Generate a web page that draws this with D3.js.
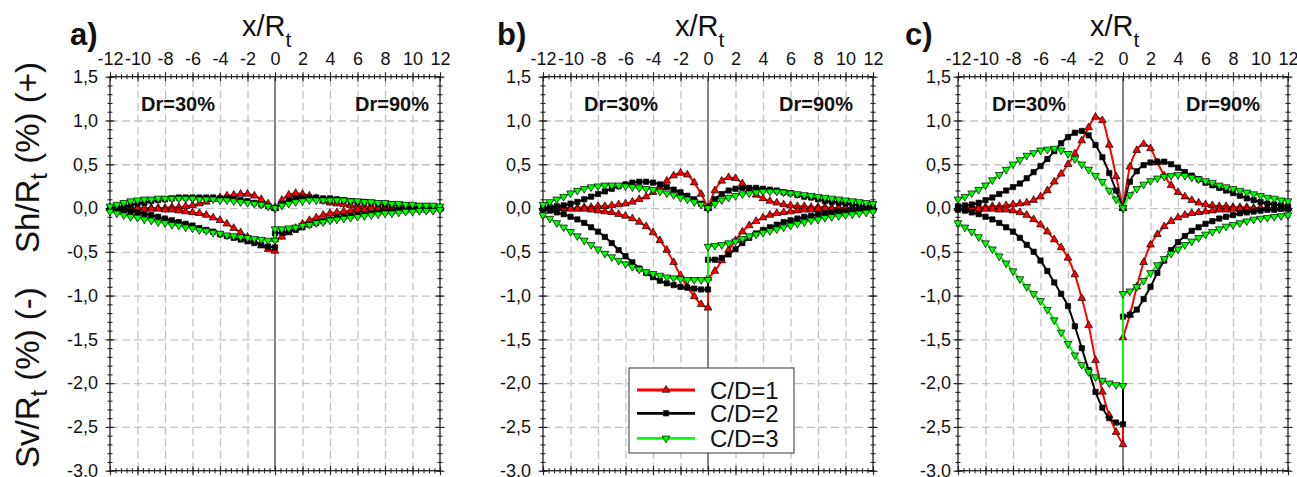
<!DOCTYPE html>
<html><head><meta charset="utf-8">
<script src="https://cdn.jsdelivr.net/npm/d3@7"></script>
<style>body{margin:0;background:#fff} svg{display:block} text{font-family:"Liberation Sans",Arial,sans-serif;fill:#111}</style>
</head><body><svg id="c" width="1297" height="477"></svg>
<script>
// ---------- categories / ticks ----------
const xLeft  = [-12,-11.5,-11,-10.5,-10,-9.5,-9,-8.5,-8,-7.5,-7,-6.5,-6,-5.5,-5,-4.5,-4,-3.5,-3,-2.5,-2,-1.5,-1,-0.5,0];
const xRight = [0,0.5,1,1.5,2,2.5,3,3.5,4,4.5,5,5.5,6,6.5,7,7.5,8,8.5,9,9.5,10,10.5,11,11.5,12];
const xTicks = [-12,-10,-8,-6,-4,-2,0,2,4,6,8,10,12];
const yTicks = [1.5,1.0,0.5,0.0,-0.5,-1.0,-1.5,-2.0,-2.5,-3.0];
const seriesNames = ["C/D=1","C/D=2","C/D=3"];
const panelLabels = ["a)","b)","c)"];

// ---------- panel a ----------
const aShL1 = [0,0,0,0,0,0,0,0,0,0.01,0.01,0.02,0.03,0.05,0.07,0.1,0.12,0.14,0.15,0.16,0.16,0.14,0.1,0.05,0];
const aShL2 = [0,0.01,0.02,0.03,0.05,0.06,0.08,0.09,0.1,0.11,0.12,0.12,0.12,0.12,0.12,0.12,0.11,0.11,0.1,0.09,0.08,0.06,0.04,0.02,0];
const aShL3 = [0.02,0.04,0.06,0.08,0.09,0.1,0.1,0.11,0.11,0.11,0.11,0.11,0.11,0.1,0.1,0.1,0.09,0.09,0.08,0.07,0.06,0.05,0.04,0.02,0];
const aSvL1 = [0,0,0,0,0,-0.01,-0.01,-0.01,-0.02,-0.02,-0.03,-0.04,-0.05,-0.06,-0.08,-0.11,-0.14,-0.18,-0.23,-0.28,-0.33,-0.38,-0.43,-0.47,-0.49];
const aSvL2 = [-0.01,-0.02,-0.03,-0.04,-0.05,-0.07,-0.08,-0.1,-0.12,-0.14,-0.16,-0.18,-0.2,-0.23,-0.25,-0.27,-0.3,-0.32,-0.34,-0.36,-0.38,-0.4,-0.42,-0.44,-0.45];
const aSvL3 = [-0.04,-0.06,-0.08,-0.1,-0.11,-0.13,-0.14,-0.16,-0.17,-0.19,-0.2,-0.22,-0.23,-0.25,-0.26,-0.28,-0.29,-0.31,-0.32,-0.33,-0.34,-0.35,-0.36,-0.37,-0.37];
const aShR1 = [0,0.09,0.15,0.17,0.16,0.14,0.11,0.08,0.06,0.05,0.04,0.03,0.02,0.02,0.01,0.01,0.01,0,0,0,0,0,0,0,0];
const aShR2 = [0,0.05,0.09,0.11,0.12,0.12,0.12,0.11,0.11,0.1,0.09,0.08,0.07,0.07,0.06,0.05,0.04,0.04,0.03,0.03,0.02,0.02,0.02,0.01,0.01];
const aShR3 = [0,0.03,0.05,0.07,0.08,0.09,0.09,0.09,0.09,0.09,0.09,0.08,0.08,0.07,0.07,0.06,0.06,0.05,0.05,0.04,0.04,0.03,0.03,0.03,0.02];
const aSvR1 = [-0.36,-0.33,-0.28,-0.23,-0.18,-0.14,-0.11,-0.08,-0.06,-0.05,-0.04,-0.03,-0.02,-0.02,-0.01,-0.01,-0.01,0,0,0,0,0,0,0,0];
const aSvR2 = [-0.29,-0.28,-0.27,-0.25,-0.22,-0.19,-0.17,-0.15,-0.13,-0.11,-0.1,-0.09,-0.08,-0.07,-0.06,-0.05,-0.04,-0.04,-0.03,-0.03,-0.02,-0.02,-0.02,-0.01,-0.01];
const aSvR3 = [-0.24,-0.24,-0.23,-0.22,-0.2,-0.19,-0.17,-0.16,-0.14,-0.13,-0.12,-0.11,-0.1,-0.09,-0.08,-0.07,-0.06,-0.06,-0.05,-0.04,-0.04,-0.03,-0.03,-0.03,-0.02];

// ---------- panel b ----------
const bShL1 = [0,0,0,0,0,0,0.01,0.01,0.02,0.02,0.03,0.04,0.05,0.07,0.1,0.13,0.18,0.24,0.31,0.37,0.4,0.38,0.29,0.16,0];
const bShL2 = [0,0.01,0.02,0.03,0.05,0.07,0.1,0.13,0.16,0.19,0.22,0.25,0.27,0.29,0.3,0.3,0.29,0.27,0.24,0.21,0.18,0.14,0.1,0.05,0];
const bShL3 = [0.04,0.07,0.1,0.13,0.17,0.2,0.22,0.24,0.25,0.26,0.26,0.26,0.25,0.24,0.23,0.22,0.21,0.19,0.17,0.15,0.12,0.1,0.07,0.04,0];
const bSvL1 = [0,0,0,0,-0.01,-0.01,-0.01,-0.02,-0.03,-0.04,-0.05,-0.07,-0.09,-0.12,-0.16,-0.21,-0.28,-0.37,-0.48,-0.62,-0.77,-0.9,-1.01,-1.1,-1.14];
const bSvL2 = [-0.02,-0.03,-0.05,-0.07,-0.1,-0.13,-0.17,-0.22,-0.27,-0.33,-0.4,-0.48,-0.55,-0.62,-0.69,-0.74,-0.79,-0.83,-0.86,-0.88,-0.9,-0.91,-0.92,-0.93,-0.93];
const bSvL3 = [-0.08,-0.12,-0.17,-0.22,-0.27,-0.32,-0.37,-0.42,-0.47,-0.52,-0.56,-0.6,-0.64,-0.67,-0.7,-0.73,-0.75,-0.77,-0.79,-0.8,-0.81,-0.82,-0.82,-0.82,-0.82];
const bShR1 = [0,0.2,0.31,0.35,0.34,0.28,0.21,0.15,0.11,0.08,0.06,0.04,0.03,0.02,0.02,0.01,0.01,0.01,0,0,0,0,0,0,0];
const bShR2 = [0,0.1,0.16,0.2,0.22,0.23,0.23,0.23,0.22,0.21,0.2,0.18,0.17,0.15,0.13,0.12,0.1,0.08,0.07,0.06,0.05,0.04,0.03,0.02,0.02];
const bShR3 = [0,0.05,0.09,0.12,0.14,0.16,0.17,0.18,0.19,0.19,0.19,0.18,0.17,0.16,0.15,0.14,0.13,0.12,0.11,0.1,0.09,0.08,0.07,0.06,0.05];
const bSvR1 = [-0.8,-0.72,-0.6,-0.48,-0.37,-0.27,-0.2,-0.15,-0.11,-0.08,-0.06,-0.05,-0.04,-0.03,-0.02,-0.02,-0.01,-0.01,-0.01,0,0,0,0,0,0];
const bSvR2 = [-0.59,-0.59,-0.57,-0.53,-0.47,-0.4,-0.34,-0.29,-0.25,-0.22,-0.19,-0.16,-0.14,-0.12,-0.1,-0.09,-0.07,-0.06,-0.05,-0.04,-0.04,-0.03,-0.02,-0.02,-0.02];
const bSvR3 = [-0.44,-0.43,-0.42,-0.4,-0.38,-0.35,-0.32,-0.3,-0.28,-0.26,-0.24,-0.22,-0.2,-0.18,-0.16,-0.14,-0.13,-0.11,-0.1,-0.09,-0.08,-0.07,-0.06,-0.05,-0.04];

// ---------- panel c ----------
const cShL1 = [0,0,0.01,0.01,0.01,0.02,0.02,0.03,0.04,0.05,0.06,0.09,0.13,0.2,0.3,0.39,0.5,0.62,0.77,0.92,1.04,1.0,0.72,0.36,0];
const cShL2 = [0.02,0.03,0.04,0.06,0.09,0.12,0.16,0.2,0.24,0.28,0.34,0.41,0.48,0.56,0.65,0.74,0.81,0.86,0.88,0.83,0.72,0.58,0.4,0.2,0];
const cShL3 = [0.1,0.13,0.17,0.21,0.26,0.32,0.38,0.44,0.5,0.55,0.6,0.63,0.66,0.67,0.68,0.66,0.62,0.56,0.5,0.44,0.37,0.3,0.2,0.1,0];
const cSvL1 = [0,0,0,-0.01,-0.01,-0.01,-0.02,-0.02,-0.03,-0.05,-0.08,-0.13,-0.19,-0.27,-0.36,-0.45,-0.57,-0.76,-1.03,-1.34,-1.74,-2.1,-2.37,-2.56,-2.7];
const cSvL2 = [-0.02,-0.03,-0.05,-0.07,-0.1,-0.13,-0.17,-0.22,-0.27,-0.34,-0.42,-0.5,-0.6,-0.72,-0.85,-0.98,-1.12,-1.35,-1.6,-1.85,-2.1,-2.28,-2.4,-2.45,-2.47];
const cSvL3 = [-0.17,-0.22,-0.27,-0.33,-0.4,-0.47,-0.55,-0.63,-0.72,-0.81,-0.9,-0.98,-1.06,-1.16,-1.28,-1.42,-1.55,-1.68,-1.79,-1.87,-1.93,-1.97,-2.0,-2.02,-2.03];
const cShR1 = [0,0.47,0.66,0.73,0.68,0.52,0.37,0.26,0.18,0.13,0.09,0.06,0.04,0.03,0.02,0.02,0.01,0.01,0.01,0,0,0,0,0,0];
const cShR2 = [0,0.3,0.42,0.49,0.52,0.53,0.53,0.5,0.46,0.41,0.37,0.33,0.29,0.26,0.23,0.2,0.17,0.14,0.11,0.09,0.07,0.05,0.04,0.03,0.02];
const cShR3 = [0,0.15,0.22,0.27,0.31,0.34,0.36,0.37,0.38,0.37,0.35,0.33,0.31,0.29,0.26,0.24,0.22,0.2,0.18,0.16,0.14,0.12,0.11,0.09,0.08];
const cSvR1 = [-1.48,-1.22,-0.9,-0.62,-0.42,-0.3,-0.21,-0.15,-0.11,-0.08,-0.06,-0.05,-0.04,-0.03,-0.02,-0.02,-0.01,-0.01,-0.01,-0.01,0,0,0,0,0];
const cSvR2 = [-1.24,-1.22,-1.16,-1.04,-0.9,-0.74,-0.6,-0.48,-0.39,-0.32,-0.26,-0.22,-0.18,-0.15,-0.12,-0.1,-0.08,-0.06,-0.05,-0.04,-0.03,-0.02,-0.02,-0.01,-0.01];
const cSvR3 = [-0.98,-0.95,-0.9,-0.83,-0.74,-0.65,-0.58,-0.52,-0.47,-0.42,-0.38,-0.34,-0.3,-0.27,-0.24,-0.21,-0.19,-0.17,-0.15,-0.13,-0.12,-0.11,-0.1,-0.09,-0.08];

// ---------- build tables ----------
const panelData = [
  [[aShL1,aShR1,aSvL1,aSvR1],[aShL2,aShR2,aSvL2,aSvR2],[aShL3,aShR3,aSvL3,aSvR3]],
  [[bShL1,bShR1,bSvL1,bSvR1],[bShL2,bShR2,bSvL2,bSvR2],[bShL3,bShR3,bSvL3,bSvR3]],
  [[cShL1,cShR1,cSvL1,cSvR1],[cShL2,cShR2,cSvL2,cSvR2],[cShL3,cShR3,cSvL3,cSvR3]]
];
const layout = [
  {left:110, labX:70,  dr30:141, dr90:355, ypad:12},
  {left:543, labX:497, dr30:584, dr90:779, ypad:12},
  {left:958, labX:905, dr30:992, dr90:1186, ypad:7}
];
const styles = [
  {line:"#ff0000", fill:"#ff0000", stroke:"#000", type:d3.symbolTriangle, rot:0,   size:26},
  {line:"#000000", fill:"#000000", stroke:"#000", type:d3.symbolSquare,   rot:0,   size:28},
  {line:"#00ff00", fill:"#00ff00", stroke:"#000", type:d3.symbolTriangle, rot:180, size:26}
];

const svg = d3.select("#c");
const TOP = 76.7, BOT = 470.7, PW = 330;
const fmt = d3.formatLocale({decimal:",", thousands:".", grouping:[3], currency:["",""], minus:"-"}).format(".1f");
const xMinor = d3.range(0,61).map(i=>-12+i*0.4);
const yMinor = d3.range(0,46).map(i=>-3+i*0.1);
const xGrid = [-10,-8,-6,-4,-2,2,4,6,8,10];
const yGrid = [1.0,0.5,0.0,-0.5,-1.0,-1.5,-2.0,-2.5];

layout.forEach((p,pi)=>{
  const x = d3.scaleLinear().domain([-12,12]).range([p.left, p.left+PW]);
  const y = d3.scaleLinear().domain([-3,1.5]).range([BOT, TOP]);
  const g = svg.append("g");

  // grid
  const gx = g.append("g").attr("transform",`translate(0,${BOT})`)
    .call(d3.axisBottom(x).tickValues(xGrid).tickSize(-(BOT-TOP)).tickFormat(""));
  gx.select(".domain").remove();
  gx.selectAll("line").attr("stroke","#c4c4c4").attr("stroke-width",1.3).attr("stroke-dasharray","8,4");
  const gy = g.append("g").attr("transform",`translate(${p.left},0)`)
    .call(d3.axisLeft(y).tickValues(yGrid).tickSize(-PW).tickFormat(""));
  gy.select(".domain").remove();
  gy.selectAll("line").attr("stroke","#c4c4c4").attr("stroke-width",1.3).attr("stroke-dasharray","8,4");

  // zero line
  g.append("line").attr("x1",x(0)).attr("x2",x(0)).attr("y1",y(1.5)).attr("y2",y(-3))
    .attr("stroke","#333").attr("stroke-width",1.2);

  // frame
  g.append("rect").attr("x",x(-12)).attr("y",y(1.5)).attr("width",x(12)-x(-12)).attr("height",y(-3)-y(1.5))
    .attr("fill","none").attr("stroke","#222").attr("stroke-width",1.3);

  // crossing ticks
  function ticks(axisGen, tf, vals, size){
    const a = g.append("g").attr("transform",tf).call(axisGen.tickValues(vals).tickSize(size).tickFormat(""));
    a.select(".domain").remove();
    a.selectAll("line").attr("stroke","#222").attr("stroke-width",1.1);
  }
  [[`translate(${p.left},0)`,"v"],[`translate(${p.left+PW},0)`,"v"],[`translate(0,${TOP})`,"h"],[`translate(0,${BOT})`,"h"]].forEach(([tf,o])=>{
    if(o==="v"){
      ticks(d3.axisLeft(y), tf, yMinor, 2.5); ticks(d3.axisRight(y), tf, yMinor, 2.5);
      ticks(d3.axisLeft(y), tf, yTicks, 4.5); ticks(d3.axisRight(y), tf, yTicks, 4.5);
    } else {
      ticks(d3.axisTop(x), tf, xMinor, 2.5); ticks(d3.axisBottom(x), tf, xMinor, 2.5);
      ticks(d3.axisTop(x), tf, xTicks, 4.5); ticks(d3.axisBottom(x), tf, xTicks, 4.5);
    }
  });

  // tick labels
  const lx = g.append("g").attr("transform",`translate(0,${TOP})`)
    .call(d3.axisTop(x).tickValues(xTicks).tickSize(0).tickPadding(12).tickFormat(d=>String(d)));
  lx.select(".domain").remove();
  lx.selectAll("text").attr("font-size",18).attr("font-family",null).attr("fill","#111");
  const ly = g.append("g").attr("transform",`translate(${p.left},0)`)
    .call(d3.axisLeft(y).tickValues(yTicks).tickSize(0).tickPadding(p.ypad).tickFormat(fmt));
  ly.select(".domain").remove();
  ly.selectAll("text").attr("font-size",18).attr("font-family",null).attr("fill","#111");

  // titles
  const t = g.append("text").attr("x",x(0)-33).attr("y",36).attr("font-size",29);
  t.append("tspan").text("x/R");
  t.append("tspan").attr("dy",11).attr("font-size",21).text("t");
  g.append("text").attr("x",p.labX).attr("y",45).attr("font-size",31).attr("font-weight","bold").text(panelLabels[pi]);
  g.append("text").attr("x",p.dr30).attr("y",110.7).attr("font-size",20).attr("font-weight","bold").text("Dr=30%");
  g.append("text").attr("x",p.dr90).attr("y",110.7).attr("font-size",20).attr("font-weight","bold").text("Dr=90%");

  // series
  const line = d3.line().x(d=>x(d[0])).y(d=>y(d[1])).curve(d3.curveMonotoneX);
  const lin = d3.line().x(d=>x(d[0])).y(d=>y(d[1]));
  panelData[pi].forEach((ser,si)=>{
    const st = styles[si];
    const [shL,shR,svL,svR] = ser;
    const halves = [
      xLeft.map((v,i)=>[v,shL[i]]), xRight.map((v,i)=>[v,shR[i]]),
      xLeft.map((v,i)=>[v,svL[i]]), xRight.map((v,i)=>[v,svR[i]])
    ];
    const sg = g.append("g");
    halves.forEach(h=>sg.append("path").attr("d",line(h)).attr("fill","none").attr("stroke",st.line).attr("stroke-width",2));
    sg.append("path").attr("d",lin([[0,svL[svL.length-1]],[0,svR[0]]])).attr("fill","none").attr("stroke",st.line).attr("stroke-width",2);
    const sym = d3.symbol().type(st.type).size(st.size);
    halves.forEach(h=>{
      sg.selectAll(null).data(h).join("path")
        .attr("transform",d=>`translate(${x(d[0])},${y(d[1])}) rotate(${st.rot})`)
        .attr("d",sym).attr("fill",st.fill).attr("stroke",st.stroke).attr("stroke-width",0.7);
    });
  });

  // legend in panel b
  if(pi===1){
    const lg = g.append("g");
    lg.append("rect").attr("x",629).attr("y",368).attr("width",165).attr("height",85)
      .attr("fill","#fff").attr("stroke","#555").attr("stroke-width",1.2);
    const rows=[390,413.3,438.3];
    seriesNames.forEach((n,i)=>{
      const st=styles[i];
      lg.append("line").attr("x1",637).attr("x2",695).attr("y1",rows[i]).attr("y2",rows[i]).attr("stroke",st.line).attr("stroke-width",2.8);
      lg.append("path").attr("transform",`translate(666,${rows[i]}) rotate(${st.rot})`)
        .attr("d",d3.symbol().type(st.type).size(st.size)).attr("fill",st.fill).attr("stroke","#000").attr("stroke-width",0.7);
      lg.append("text").attr("x",710).attr("y",rows[i]+8.5).attr("font-size",24).text(n);
    });
  }
});

// y axis titles
function yTitle(yPos, main, rest){
  const t = svg.append("text").attr("transform",`translate(38.5,${yPos}) rotate(-90)`).attr("font-size",33);
  t.append("tspan").text(main);
  t.append("tspan").attr("dy",8).attr("font-size",24).text("t");
  t.append("tspan").attr("dy",-8).text(rest);
}
yTitle(468, "Sv/R", " (%) (-)");
yTitle(253, "Sh/R", " (%) (+)");
</script></body></html>
